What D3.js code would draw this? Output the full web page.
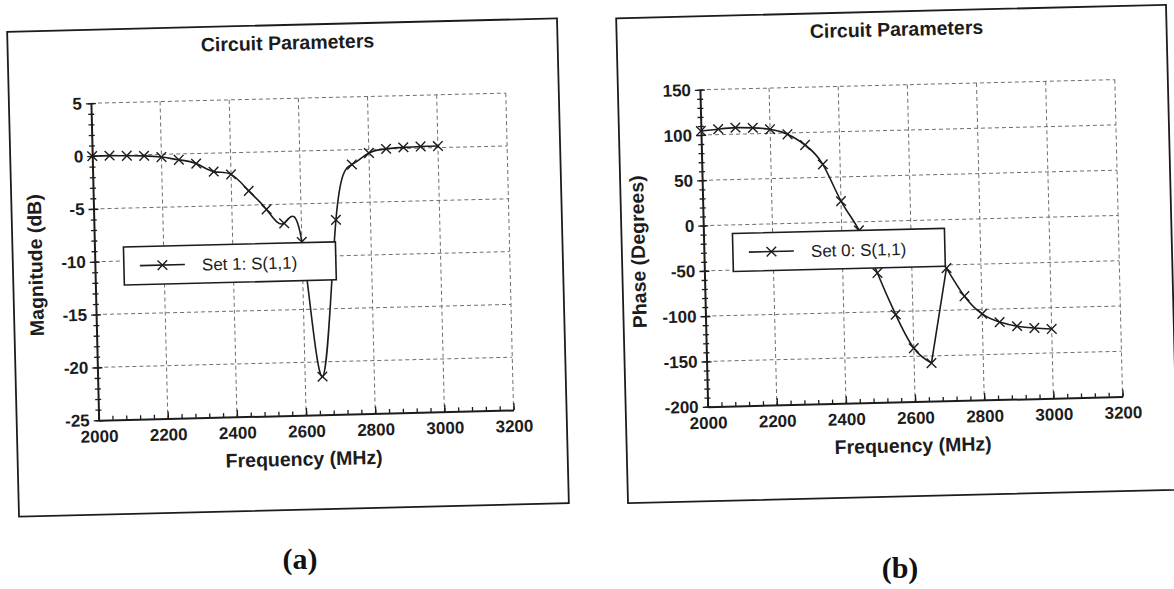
<!DOCTYPE html>
<html>
<head>
<meta charset="utf-8">
<script src="https://cdn.jsdelivr.net/npm/d3@7"></script>
<style>
  body { margin: 0; background: #fff; }
  svg { display: block; }
</style>
</head>
<body>
<svg id="fig" width="1174" height="589"></svg>
<script>
// sweep points, every 50 MHz
let freqs = [2000, 2050, 2100, 2150, 2200, 2250, 2300, 2350, 2400, 2450, 2500,
             2550, 2600, 2650, 2700, 2750, 2800, 2850, 2900, 2950, 3000];
// S(1,1) magnitude in dB
let magnitude = [0, 0, -0.05, -0.1, -0.25, -0.55, -0.95, -1.75, -2.05, -3.65, -5.45,
                 -6.8, -8.6, -21.4, -6.6, -1.4, -0.35, 0, 0.1, 0.15, 0.15];
// S(1,1) phase in degrees
let phase = [104.5, 106, 107.2, 106.5, 104.5, 98.5, 86.2, 64.3, 23.3, -9.5, -57,
             -103.5, -141, -158, -53.5, -85, -105, -114.5, -119.5, -122, -123.5];
let freqTicks = [2000, 2200, 2400, 2600, 2800, 3000, 3200];
let magTicks = [5, 0, -5, -10, -15, -20, -25];
let phaseTicks = [150, 100, 50, 0, -50, -100, -150, -200];
let legendNames = ['Set 1: S(1,1)', 'Set 0: S(1,1)'];
let captions = ['(a)', '(b)'];

let svg = d3.select('#fig');
let ink = '#1c1c1c';
let sans = '"Liberation Sans", Arial, sans-serif';
let box = {w: 550, h: 485};
let plot = {l: 82, r: 497, t: 73.5, b: 390.5};
let tilt = -1.4; // the scanned page is a little crooked

let cross = function(size) {
  return 'M' + (-size) + ',' + (-size) + 'L' + size + ',' + size +
         'M' + (-size) + ',' + size + 'L' + size + ',' + (-size);
}

let draw_panel = function(p) {
  let g = svg.append('g')
    .attr('transform', 'translate(' + p.cx + ',' + p.cy + ') rotate(' + tilt + ') translate(' + (-box.w / 2) + ',' + (-box.h / 2) + ')');

  g.append('rect').attr('width', box.w).attr('height', box.h)
    .attr('fill', 'none').attr('stroke', ink).attr('stroke-width', 1.8);

  let x = d3.scaleLinear().domain([2000, 3200]).range([plot.l, plot.r]);
  let y = d3.scaleLinear().domain(p.yDomain).range([plot.b, plot.t]);

  // dashed grid
  let grid = g.append('g').attr('stroke', '#6f6f6f').attr('stroke-width', 1).attr('stroke-dasharray', '4,3');
  grid.selectAll('.hg').data(p.yTicks.slice(0, -1)).enter().append('line')
    .attr('x1', plot.l).attr('x2', plot.r).attr('y1', d => y(d)).attr('y2', d => y(d));
  grid.selectAll('.vg').data(freqTicks.slice(1)).enter().append('line')
    .attr('y1', plot.t).attr('y2', plot.b).attr('x1', d => x(d)).attr('x2', d => x(d));

  // curve, drawn piece by piece so the sharp corners stay sharp
  let pts = p.values.map((d, i) => [freqs[i], d]);
  p.pieces.forEach(function(pc) {
    let line = d3.line().x(d => x(d[0])).y(d => y(d[1])).curve(pc[2]);
    g.append('path').datum(pts.slice(pc[0], pc[1] + 1)).attr('d', line)
      .attr('fill', 'none').attr('stroke', ink).attr('stroke-width', 1.6);
  });
  g.selectAll('.mk').data(pts).enter().append('path')
    .attr('transform', d => 'translate(' + x(d[0]) + ',' + y(d[1]) + ')')
    .attr('d', cross(4.8))
    .attr('stroke', ink).attr('stroke-width', 1.4).attr('fill', 'none');

  // y axis, ticks cross the line
  let ya = g.append('g').attr('transform', 'translate(' + plot.l + ',0)')
    .call(d3.axisLeft(y).tickValues(p.yTicks).tickSize(5).tickSizeOuter(0).tickPadding(4).tickFormat(d => String(d)));
  ya.selectAll('.tick line').attr('x1', 5);
  let ym = g.append('g').attr('transform', 'translate(' + plot.l + ',0)')
    .call(d3.axisLeft(y).tickValues(d3.range(p.yDomain[0], p.yDomain[1] + 0.01, p.minor)).tickSize(3).tickSizeOuter(0).tickFormat(''));
  ym.selectAll('.tick line').attr('x1', 3);
  ym.select('.domain').remove();

  // x axis, ticks point up into the plot
  let xa = g.append('g').attr('transform', 'translate(0,' + plot.b + ')')
    .call(d3.axisBottom(x).tickValues(freqTicks).tickSize(-7).tickSizeOuter(0).tickPadding(10).tickFormat(d => String(d)));
  let xm = g.append('g').attr('transform', 'translate(0,' + plot.b + ')')
    .call(d3.axisBottom(x).tickValues(d3.range(2000, 3200.1, 40)).tickSize(-4).tickSizeOuter(0).tickFormat(''));
  xm.select('.domain').remove();

  [ya, ym, xa, xm].forEach(function(a) {
    a.attr('font-family', sans).attr('font-size', 17).attr('font-weight', 'bold');
    a.selectAll('line').attr('stroke', ink).attr('stroke-width', 1.3);
    a.selectAll('text').attr('fill', ink);
    a.select('.domain').attr('stroke', ink).attr('stroke-width', 2);
  });

  // titles
  g.append('text').attr('x', 280).attr('y', 24.5).attr('text-anchor', 'middle')
    .attr('font-family', sans).attr('font-size', 19.5).attr('font-weight', 'bold').attr('fill', ink)
    .text('Circuit Parameters');
  g.append('text').attr('x', 286.5).attr('y', 441).attr('text-anchor', 'middle')
    .attr('font-family', sans).attr('font-size', 19.5).attr('font-weight', 'bold').attr('fill', ink)
    .text('Frequency (MHz)');
  g.append('text').attr('transform', 'translate(' + p.ylabelX + ',234) rotate(-90)').attr('text-anchor', 'middle')
    .attr('font-family', sans).attr('font-size', 19.5).attr('font-weight', 'bold').attr('fill', ink)
    .text(p.ylabel);

  // legend sits on top of the curve
  let lg = g.append('g').attr('transform', 'translate(111,218)');
  lg.append('rect').attr('width', 212).attr('height', 38)
    .attr('fill', '#fff').attr('stroke', ink).attr('stroke-width', 1.6);
  lg.append('line').attr('x1', 16).attr('x2', 61).attr('y1', 19).attr('y2', 19)
    .attr('stroke', ink).attr('stroke-width', 1.6);
  lg.append('path').attr('transform', 'translate(38.5,19)').attr('d', cross(4.8))
    .attr('stroke', ink).attr('stroke-width', 1.4);
  lg.append('text').attr('x', 78).attr('y', 25.5)
    .attr('font-family', sans).attr('font-size', 17).attr('fill', ink)
    .text(p.legend);

  svg.append('text').attr('x', p.capX).attr('y', p.capY).attr('text-anchor', 'middle')
    .attr('font-family', '"Liberation Serif", "Times New Roman", serif').attr('font-size', 30).attr('font-weight', 'bold')
    .attr('fill', '#111').text(p.caption);
}

draw_panel({
  cx: 288, cy: 267.5, values: magnitude, yDomain: [-25, 5], yTicks: magTicks, minor: 1,
  ylabel: 'Magnitude (dB)', ylabelX: 29.5, legend: legendNames[0],
  pieces: [[0, 20, d3.curveNatural]],
  caption: captions[0], capX: 300, capY: 569
});
draw_panel({
  cx: 897, cy: 254, values: phase, yDomain: [-200, 150], yTicks: phaseTicks, minor: 10,
  ylabel: 'Phase (Degrees)', ylabelX: 23, legend: legendNames[1],
  pieces: [[0, 13, d3.curveNatural], [13, 14, d3.curveLinear], [14, 20, d3.curveNatural]],
  caption: captions[1], capX: 900, capY: 578
});
</script>
</body>
</html>
